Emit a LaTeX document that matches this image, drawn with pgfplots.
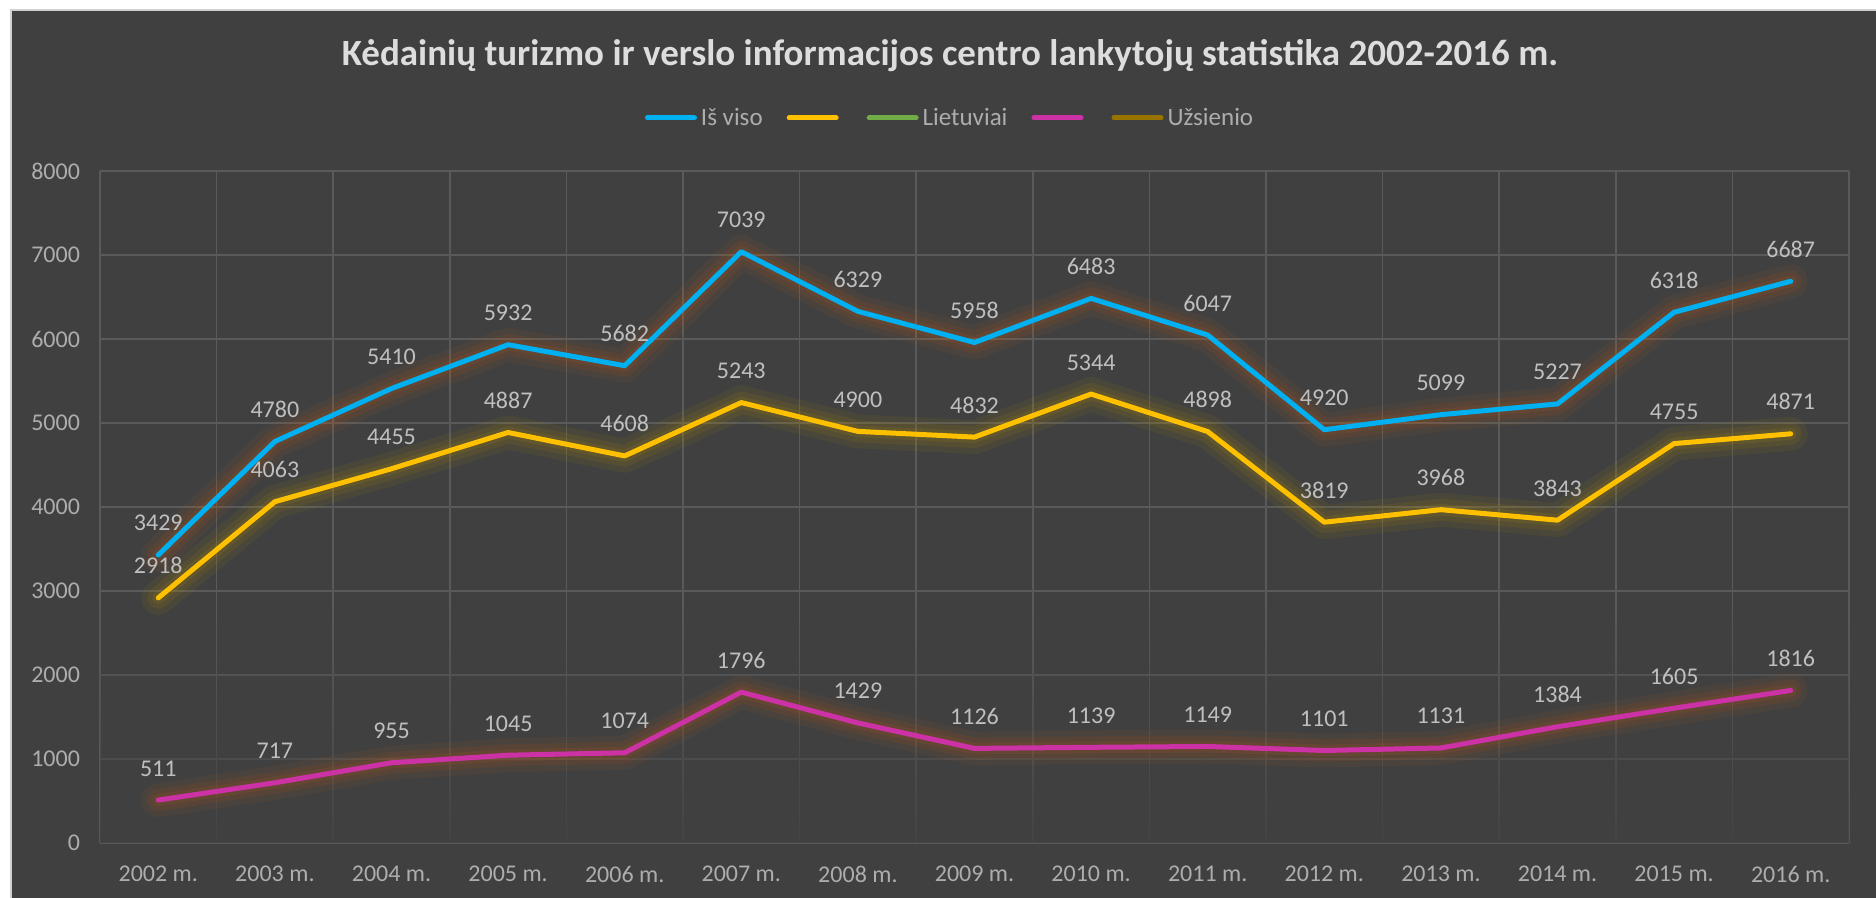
\documentclass[border=0pt]{standalone}
\usepackage{fontspec}
\setmainfont{Carlito}
\usepackage{pgfplots}
\usepackage{pgfplotstable}
\pgfplotsset{compat=1.18}
\usetikzlibrary{fadings}

\definecolor{bgc}{HTML}{404040}
\definecolor{gridc}{HTML}{5A5A5A}
\definecolor{tickc}{HTML}{ADADAD}
\definecolor{labelc}{HTML}{BFBFBF}
\definecolor{titlec}{HTML}{DDDDDD}
\definecolor{framec}{HTML}{D0D0D0}
\definecolor{blueL}{HTML}{00B0F0}
\definecolor{yellowL}{HTML}{FFC000}
\definecolor{greenL}{HTML}{70AD47}
\definecolor{magL}{HTML}{CC32A6}
\definecolor{oliveL}{HTML}{997300}
\definecolor{glowO}{HTML}{C55A11}
\definecolor{glowY}{HTML}{BF9000}

\pgfplotstableread{
x total lt uz
0 3429 2918 511
1 4780 4063 717
2 5410 4455 955
3 5932 4887 1045
4 5682 4608 1074
5 7039 5243 1796
6 6329 4900 1429
7 5958 4832 1126
8 6483 5344 1139
9 6047 4898 1149
10 4920 3819 1101
11 5099 3968 1131
12 5227 3843 1384
13 6318 4755 1605
14 6687 4871 1816
}\data

\begin{document}
\begin{tikzpicture}
\useasboundingbox (0,0) rectangle (938pt,449pt);
\fill[white] (0,0) rectangle (938pt,449pt);
\fill[bgc] (5.5pt,0) rectangle (938pt,444pt);
\draw[framec, line width=0.8pt] (5.5pt,0) -- (5.5pt,444pt) -- (938pt,444pt);
\node[font=\bfseries\fontsize{18.5}{22}\selectfont, text=titlec] at (475pt,421pt)
  {Kėdainių turizmo ir verslo informacijos centro lankytojų statistika 2002-2016 m.};

\begin{axis}[
  at={(50pt,27.5pt)}, anchor=south west,
  scale only axis, width=874.5pt, height=336pt,
  xmin=-0.5, xmax=14.5, ymin=0, ymax=8000,
  xtick={0,...,14},
  xticklabels={2002 m.,2003 m.,2004 m.,2005 m.,2006 m.,2007 m.,2008 m.,2009 m.,2010 m.,2011 m.,2012 m.,2013 m.,2014 m.,2015 m.,2016 m.},
  minor xtick={-0.5,0.5,...,14.5},
  ytick={0,1000,...,8000},
  scaled y ticks=false,
  /pgf/number format/assume math mode=true,
  /pgf/number format/1000 sep={},
  xminorgrids, ymajorgrids, xmajorgrids=false,
  major grid style={gridc, line width=0.8pt},
  minor grid style={gridc, line width=0.8pt},
  axis line style={draw=none},
  major tick style={draw=none}, minor tick style={draw=none},
  tick label style={font=\fontsize{12}{14}\selectfont, text=tickc},
  xticklabel style={yshift=-8pt},
  yticklabel style={xshift=-6.5pt},
  legend style={at={(0.4866,1.079)}, anchor=center, draw=none, fill=none,
    font=\fontsize{12.5}{14}\selectfont, text=tickc,
    /tikz/every even column/.append style={column sep=10pt}},
  legend columns=-1,
  legend image code/.code={\draw[#1, line width=2.5pt, line cap=round] (0pt,0pt) -- (23.5pt,0pt);},
  every node near coord/.append style={font=\fontsize{12}{14}\selectfont, text=labelc, anchor=base, yshift=12pt, inner sep=0pt},
]
% faded lower region (grid gets faint near the bottom)
\fill[bgc, path fading=north, fill opacity=0.85] (axis cs:-0.7,-60) rectangle (axis cs:14.7,2800);

% glows
\addplot[forget plot, glowO, line width=17pt, opacity=0.08, line join=round, line cap=round, mark=none] table[x=x,y=total]{\data};
\addplot[forget plot, glowO, line width=11pt, opacity=0.11, line join=round, line cap=round, mark=none] table[x=x,y=total]{\data};
\addplot[forget plot, glowO, line width=6pt, opacity=0.12, line join=round, line cap=round, mark=none] table[x=x,y=total]{\data};
\addplot[forget plot, glowY, line width=17pt, opacity=0.08, line join=round, line cap=round, mark=none] table[x=x,y=lt]{\data};
\addplot[forget plot, glowY, line width=11pt, opacity=0.11, line join=round, line cap=round, mark=none] table[x=x,y=lt]{\data};
\addplot[forget plot, glowY, line width=6pt, opacity=0.12, line join=round, line cap=round, mark=none] table[x=x,y=lt]{\data};
\addplot[forget plot, glowO, line width=17pt, opacity=0.08, line join=round, line cap=round, mark=none] table[x=x,y=uz]{\data};
\addplot[forget plot, glowO, line width=11pt, opacity=0.11, line join=round, line cap=round, mark=none] table[x=x,y=uz]{\data};
\addplot[forget plot, glowO, line width=6pt, opacity=0.12, line join=round, line cap=round, mark=none] table[x=x,y=uz]{\data};

% lines
\addplot[blueL, line width=2.5pt, line join=round, line cap=round, mark=none,
  nodes near coords={\pgfmathprintnumber[fixed,precision=0,1000 sep={}]{\pgfplotspointmeta}}]
  table[x=x,y=total]{\data};
\addlegendentry{Iš viso}
\addplot[yellowL, line width=2.5pt, line join=round, line cap=round, mark=none,
  nodes near coords={\pgfmathprintnumber[fixed,precision=0,1000 sep={}]{\pgfplotspointmeta}}]
  table[x=x,y=lt]{\data};
\addlegendentry{\mbox{}}
\addlegendimage{greenL}
\addlegendentry{Lietuviai}
\addplot[magL, line width=2.5pt, line join=round, line cap=round, mark=none,
  nodes near coords={\pgfmathprintnumber[fixed,precision=0,1000 sep={}]{\pgfplotspointmeta}}]
  table[x=x,y=uz]{\data};
\addlegendentry{\mbox{}}
\addlegendimage{oliveL}
\addlegendentry{Užsienio}
\end{axis}
\end{tikzpicture}
\end{document}
